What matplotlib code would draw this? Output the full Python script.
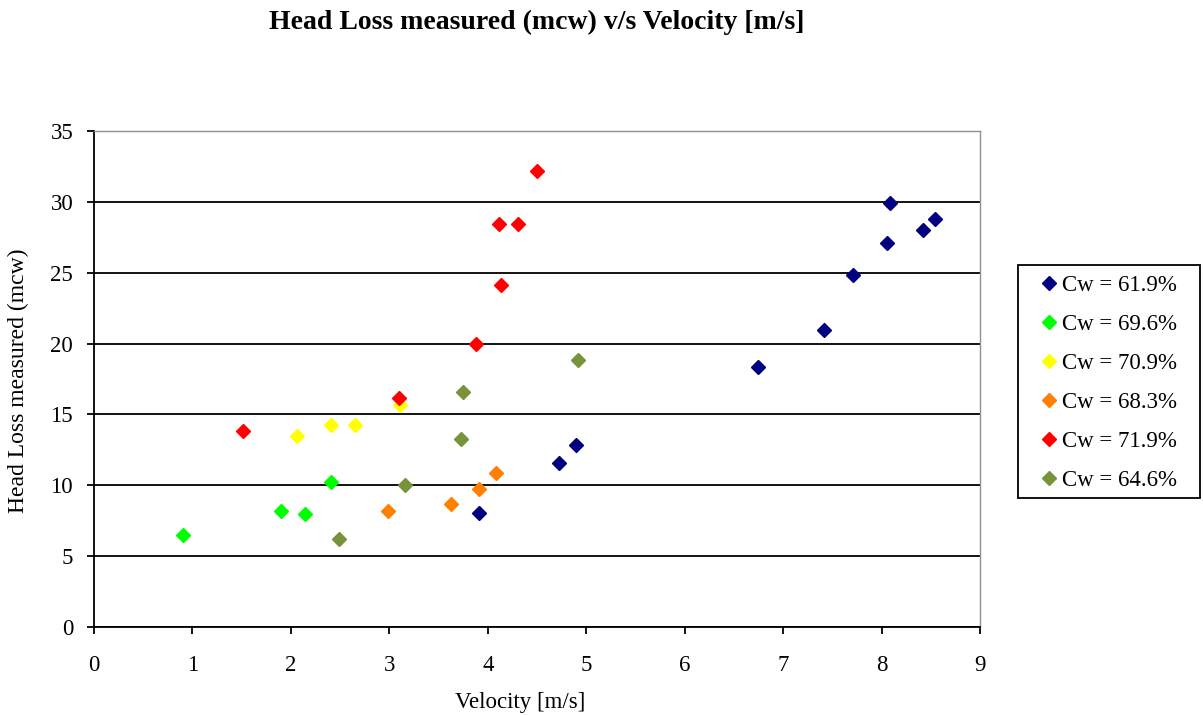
import matplotlib
matplotlib.use("Agg")
import matplotlib.pyplot as plt
from matplotlib.patches import Rectangle

plt.rcParams['font.family'] = ['Liberation Serif', 'DejaVu Serif']

labels = ["Cw = 61.9%", "Cw = 69.6%", "Cw = 70.9%", "Cw = 68.3%", "Cw = 71.9%", "Cw = 64.6%"]
colors = ["#000080", "#00FF00", "#FFFF00", "#FF8000", "#FF0000", "#77933C"]

v_619 = [3.91, 4.72, 4.90, 6.74, 7.42, 7.71, 8.06, 8.09, 8.42, 8.54]
h_619 = [8.01, 11.54, 12.86, 18.37, 20.97, 24.87, 27.12, 29.91, 28.01, 28.77]
v_696 = [0.90, 1.90, 2.14, 2.41]
h_696 = [6.48, 8.18, 7.97, 10.21]
v_709 = [2.06, 2.41, 2.65, 3.11]
h_709 = [13.48, 14.23, 14.23, 15.65]
v_683 = [2.99, 3.63, 3.91, 4.08]
h_683 = [8.16, 8.68, 9.77, 10.88]
v_719 = [1.51, 3.10, 3.885, 4.13, 4.11, 4.31, 4.50]
h_719 = [13.86, 16.13, 19.98, 24.1, 28.42, 28.42, 32.2]
v_646 = [2.49, 3.16, 3.73, 3.75, 4.92]
h_646 = [6.24, 10.03, 13.29, 16.57, 18.84]

series = [(v_619, h_619), (v_696, h_696), (v_709, h_709),
          (v_683, h_683), (v_719, h_719), (v_646, h_646)]

W, H = 1203, 715
fig = plt.figure(figsize=(W/100, H/100), dpi=100)
ax = fig.add_axes([94/W, (H-627)/H, (980-94)/W, (627-131)/H])

for (xv, yv), c, lab in zip(series, colors, labels):
    ax.plot(xv, yv, linestyle='none', marker='D', markersize=7.3, color=c,
            markeredgecolor=c, label=lab, zorder=3)

ax.set_xlim(0, 9)
ax.set_ylim(0, 35)
ax.set_xticks(range(0, 10))
ax.set_yticks(range(0, 36, 5))
ax.yaxis.grid(True, color='black', linewidth=1.3)
ax.set_axisbelow(True)
for s in ['top', 'right']:
    ax.spines[s].set_color('#909090')
    ax.spines[s].set_linewidth(1.0)
for s in ['left', 'bottom']:
    ax.spines[s].set_color('black')
    ax.spines[s].set_linewidth(1.3)
ax.tick_params(axis='both', direction='out', length=5, width=1.3, labelsize=16.5, colors='black')
ax.tick_params(axis='x', pad=15)
ax.tick_params(axis='y', pad=10)

ax.set_xlabel("Velocity [m/s]", fontsize=16.5)
ax.set_ylabel("Head Loss measured (mcw)", fontsize=17)
ax.xaxis.set_label_coords(520/W, 1-692/H, transform=fig.transFigure)
ax.yaxis.set_label_coords(29/W, 1-381/H, transform=fig.transFigure)
fig.suptitle("Head Loss measured (mcw) v/s Velocity [m/s]", fontsize=20, fontweight='bold',
             x=537/W, y=1-22/H, va='center')

# legend frame
fig.patches.append(Rectangle((1018/W, 1-498/H), (1200-1018)/W, (498-265)/H,
                             transform=fig.transFigure, facecolor='white',
                             edgecolor='black', linewidth=1.3, zorder=0))
leg = fig.legend(loc='center left', bbox_to_anchor=(1037.5/W, 1-383/H), fontsize=16.5,
                 frameon=False, handletextpad=0.07, labelspacing=0.78, borderpad=0,
                 handlelength=1.0, markerscale=1.0, borderaxespad=0)

fig.savefig("out.png", dpi=100)
